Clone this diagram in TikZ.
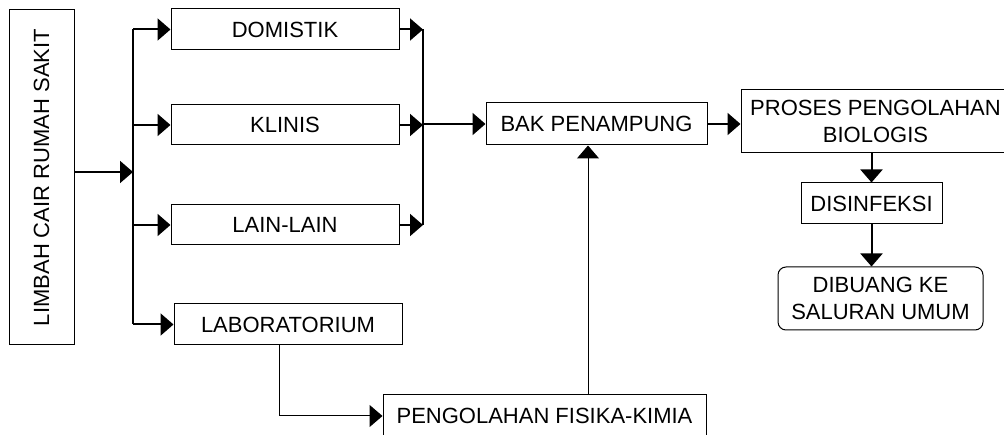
\documentclass[tikz,border=0pt]{standalone}
\usepackage{fontspec}
\setmainfont{Liberation Sans}
\usetikzlibrary{arrows.meta}

\tikzset{
	kotak/.style={draw, line width=1pt, inner sep=0pt, align=center, font=\fontsize{22}{27}\selectfont},
	garis/.style={line width=2pt},
	panah/.style={line width=2pt, -{Triangle[length=13pt,width=22pt]}},
	panahtipis/.style={line width=1pt, -{Triangle[length=13pt,width=22pt]}}
}

\begin{document}
\begin{tikzpicture}[x=1pt,y=-1pt]
				\clip (0,0) rectangle (1004,435);
				\fill[white] (0,0) rectangle (1004,435);
				% kotak-kotak
				\node[kotak, rotate=90, minimum width=335pt, minimum height=65pt] (limbah) at (41.5,177.5) {LIMBAH CAIR RUMAH SAKIT};
				\node[kotak, minimum width=228pt, minimum height=41pt] (domistik) at (285,29.5) {DOMISTIK};
				\node[kotak, minimum width=228pt, minimum height=40pt] (klinis) at (285,125) {KLINIS};
				\node[kotak, minimum width=228pt, minimum height=40pt] (lain) at (285,225) {LAIN-LAIN};
				\node[kotak, minimum width=228pt, minimum height=41pt] (lab) at (288,324.5) {LABORATORIUM};
				\node[kotak, minimum width=221pt, minimum height=42pt] (bak) at (596.5,124) {BAK PENAMPUNG};
				\node[kotak, minimum width=269pt, minimum height=63pt] (proses) at (875.5,121.5) {PROSES PENGOLAHAN\\BIOLOGIS};
				\node[kotak, minimum width=141pt, minimum height=41pt] (disinfeksi) at (871.5,203.5) {DISINFEKSI};
				\node[kotak, rounded corners=8pt, minimum width=205pt, minimum height=63pt] (dibuang) at (880.5,298.5) {DIBUANG KE\\SALURAN UMUM};
				\node[kotak, minimum width=323pt, minimum height=42pt] (fisika) at (544.5,416) {PENGOLAHAN FISIKA-KIMIA};
				% jalur
				\coordinate (kiri) at (133,0);
				\coordinate (kanan) at (423,0);
				\coordinate (masuk) at ([yshift=5.5pt]limbah.south);
				\draw[panah] (masuk) -- (masuk -| kiri);
				\draw[garis] (kiri |- domistik.west) -- (kiri |- lab.west);
				\draw[panah] (kiri |- domistik.west) -- (domistik.west);
				\draw[panah] (kiri |- klinis.west) -- (klinis.west);
				\draw[panah] (kiri |- lain.west) -- (lain.west);
				\draw[panah] (kiri |- lab.west) -- (lab.west);
				\draw[garis] (kanan |- domistik.east) -- (kanan |- lain.east);
				\draw[panah] (domistik.east) -- (domistik.east -| kanan);
				\draw[panah] (klinis.east) -- (klinis.east -| kanan);
				\draw[panah] (lain.east) -- (lain.east -| kanan);
				\draw[panah] (kanan |- bak.west) -- (bak.west);
				\draw[panah] (bak.east) -- (bak.east -| proses.west);
				\draw[panah] (disinfeksi.north |- proses.south) -- (disinfeksi.north);
				\draw[panah] (disinfeksi.south) -- (disinfeksi.south |- dibuang.north);
				\coordinate (turun) at ([xshift=-9pt]lab.south);
				\draw[panahtipis] (turun) |- (fisika.west);
				\coordinate (naik) at ([xshift=-8.5pt]bak.south);
				\draw[panahtipis] (naik |- fisika.north) -- (naik);
			\end{tikzpicture}
\end{document}
